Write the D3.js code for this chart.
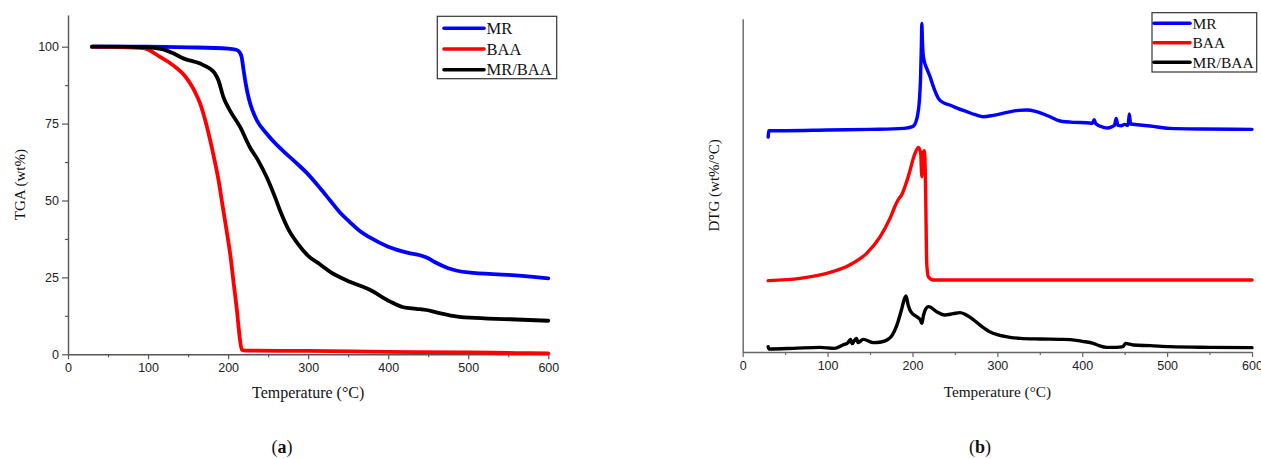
<!DOCTYPE html>
<html>
<head>
<meta charset="utf-8">
<script src="https://cdn.jsdelivr.net/npm/d3@7/dist/d3.min.js"></script>
<style>
  html, body { margin: 0; padding: 0; background: #fff; }
  svg { display: block; }
</style>
</head>
<body>
<svg id="chart" width="1261" height="459"></svg>
<script>
// ---------- DATA ----------
const seriesNames = ["MR", "BAA", "MR/BAA"];
const xTicksMajor = [0, 100, 200, 300, 400, 500, 600];
const xTicksMinor = [50, 150, 250, 350, 450, 550];
const tgaTicksMajor = [0, 25, 50, 75, 100];
const tgaTicksMinor = [12.5, 37.5, 62.5, 87.5];

// TGA (wt%) vs temperature (°C)
const tgaMR = [[30,100],[100,100],[150,99.8],[200,99.4],[210,99.0],[214,98.3],[217,96.5],[219,93],[222,88],[226,83],[230,79.6],[236,76],[248,71.8],[265,67],[281,63.2],[300,58.5],[315,54],[327.5,50],[340,46],[352,43],[365,40],[377,38],[400,35],[425,33],[440,32.2],[450,31.2],[458,30],[475,28],[500,26.6],[550,25.8],[600,24.7]];
const tgaBAA = [[30,100],[60,99.9],[94,99.5],[115,96.7],[125,95.1],[136,93],[145,90.8],[152.5,88.1],[158,85.6],[165,81.6],[171,76.5],[177.5,69.7],[183,63.2],[188,56.7],[193,48.5],[198,40.4],[202.5,32.8],[207,23],[211,14.3],[214.5,5.5],[217,1.5],[222,1.2],[300,1.1],[400,0.8],[500,0.6],[560,0.4],[600,0.3]];
const tgaBlend = [[30,100],[60,100],[100,99.8],[119,99.1],[130,98],[144,96.2],[165,94.5],[177,92.9],[183,91.5],[188,89],[194,83.7],[202,79.4],[215,73.9],[227,67.4],[238,62.8],[248,57.7],[258,51.5],[266,46],[275,40.8],[287,36],[300,32],[315,29.2],[327.5,26.8],[352,23.6],[377,21],[402,17.2],[419,15.3],[435,14.8],[448,14.4],[460,13.6],[478,12.6],[502,11.9],[552,11.4],[600,10.9]];

// DTG (arbitrary offset units) vs temperature (°C)
const dtgMR = [[30,64.5],[31,66.4],[50,66.4],[100,66.6],[150,66.8],[190,67.1],[200,67.6],[204,69],[206,71],[208,75],[209.5,82],[210.5,92],[211,98.6],[211.8,93],[212.5,89.5],[213.6,87.6],[216.8,85.1],[220.7,82.6],[224.6,79.6],[230.5,76.1],[236.3,74.8],[244,74.1],[254,73],[264,72.1],[274,71.2],[283.5,70.6],[295,71],[310,71.8],[325,72.5],[335,72.6],[345,72.2],[360,70.8],[374,69.3],[390,68.9],[405,68.8],[412,68.6],[414,69.7],[416,68.5],[425,67.4],[430,67.2],[435,67.6],[438,68],[440,70.1],[442,68],[446,67.9],[450,68.3],[454,68],[455.5,71.4],[457,68.4],[465,68.2],[480,67.8],[503,67.1],[540,66.9],[600,66.8]];
const dtgBAA = [[30,21.4],[67.5,22.1],[99,23.6],[126,26.1],[146,29.6],[162,34.6],[173.5,40.1],[181,44.6],[184,46],[187,47],[195,52.6],[203,59.6],[207,61.4],[209.7,59.6],[210.5,55],[211,52.6],[211.7,57],[212.5,59.6],[214,60.4],[215,55],[215.6,46.6],[216.8,26.6],[218.7,22.6],[224.6,21.6],[300,21.6],[400,21.6],[500,21.6],[600,21.6]];
const dtgBlend = [[30,1.6],[31,0.9],[60,1.1],[91,1.4],[108,1.1],[118,2.1],[124,2.8],[127,3.8],[129,2.5],[131,3.2],[134,4.1],[136,2.8],[142,3.8],[154,2.8],[163,3],[170,3.6],[176,5],[181,7.6],[187,12.6],[190,15.5],[192.4,16.8],[195,14],[198,12.1],[205,10.6],[209,9.8],[211,8.6],[213,11],[215,12.6],[219,13.6],[228.6,12.1],[238,11.1],[248,11.5],[256,11.8],[262,11.3],[268,10.4],[280,8],[291,6.1],[300,5.2],[315,4.4],[327,4.1],[350,3.9],[374,3.8],[386,3.7],[400,3.2],[413,2.6],[420,1.9],[429,1.4],[440,1.4],[448,1.6],[451,2.6],[453,2.5],[460,2.1],[480,1.9],[503,1.6],[550,1.4],[600,1.3]];

const colors = ["#0000ff", "#ff0000", "#000000"];

// ---------- DRAW ----------
const svg = d3.select("#chart");
svg.append("rect").attr("width", 1261).attr("height", 459).attr("fill", "#fff");

const tickFont = "'Liberation Sans', Arial, sans-serif";
const serif = "'Liberation Serif', 'Times New Roman', serif";

function styleAxis(g, color) {
  g.select(".domain").attr("stroke", color).attr("stroke-width", 1.4);
  g.selectAll(".tick line").attr("stroke", color).attr("stroke-width", 1.2);
  g.selectAll(".tick text").attr("fill", "#222").style("font-family", tickFont).style("font-size", "12.5px");
}

function panel(opts) {
  const x = d3.scaleLinear().domain([0, 600]).range([opts.x0, opts.x1]);
  const y = d3.scaleLinear().domain(opts.yDomain).range([opts.yBottom, opts.yTop]);
  const g = svg.append("g");

  // minor x ticks
  g.append("g").attr("transform", `translate(0,${opts.yBottom})`)
    .call(d3.axisBottom(x).tickValues(xTicksMinor).tickSize(3).tickFormat("").tickSizeOuter(0))
    .call(s => { styleAxis(s, opts.axisColor); s.select(".domain").remove(); });
  // major x ticks
  g.append("g").attr("transform", `translate(0,${opts.yBottom})`)
    .call(d3.axisBottom(x).tickValues(xTicksMajor).tickSize(5).tickPadding(4).tickSizeOuter(0).tickFormat(d3.format("d")))
    .call(s => styleAxis(s, opts.axisColor));

  if (opts.yMajor) {
    g.append("g").attr("transform", `translate(${opts.x0},0)`)
      .call(d3.axisLeft(y).tickValues(opts.yMinor).tickSize(3).tickFormat("").tickSizeOuter(0))
      .call(s => { styleAxis(s, opts.axisColor); s.select(".domain").remove(); });
    g.append("g").attr("transform", `translate(${opts.x0},0)`)
      .call(d3.axisLeft(y).tickValues(opts.yMajor).tickSize(6).tickPadding(3).tickSizeOuter(0).tickFormat(d3.format("d")))
      .call(s => styleAxis(s, opts.axisColor));
  } else {
    g.append("g").attr("transform", `translate(${opts.x0},0)`)
      .call(d3.axisLeft(y).tickValues([]).tickSizeOuter(0))
      .call(s => styleAxis(s, opts.axisColor));
  }

  const line = d3.line().x(d => x(d[0])).y(d => y(d[1])).curve(d3.curveMonotoneX);
  opts.series.forEach((s, i) => {
    g.append("path").datum(s).attr("d", line)
      .attr("fill", "none").attr("stroke", colors[i])
      .attr("stroke-width", opts.lw).attr("stroke-linejoin", "round").attr("stroke-linecap", "round");
  });

  // axis titles
  g.append("text").attr("x", (opts.x0 + opts.x1) / 2).attr("y", opts.xTitleY)
    .attr("text-anchor", "middle").style("font-family", serif).style("font-size", opts.xTitleSize + "px")
    .attr("fill", "#111").text("Temperature (°C)");
  g.append("text").attr("transform", `translate(${opts.yTitleX},${(opts.yTop + opts.yBottom) / 2}) rotate(-90)`)
    .attr("text-anchor", "middle").style("font-family", serif).style("font-size", "15px")
    .attr("fill", "#111").text(opts.yTitle);

  // legend
  const L = opts.legend;
  g.append("rect").attr("x", L.x).attr("y", L.y).attr("width", L.w).attr("height", L.h)
    .attr("fill", "#fff").attr("stroke", "#333").attr("stroke-width", 1.2);
  seriesNames.forEach((n, i) => {
    const cy = L.y + L.first + i * L.step;
    g.append("line").attr("x1", L.lx1).attr("x2", L.lx2).attr("y1", cy).attr("y2", cy)
      .attr("stroke", colors[i]).attr("stroke-width", 3.6).attr("stroke-linecap", "round");
    g.append("text").attr("x", L.tx).attr("y", cy + 5.5)
      .style("font-family", serif).style("font-size", L.fs + "px").attr("fill", "#111").text(n);
  });

  // panel label
  const lab = g.append("text").attr("x", opts.labelX).attr("y", 453).attr("text-anchor", "middle")
    .style("font-family", serif).style("font-size", "18px").attr("fill", "#111");
  lab.append("tspan").text("(");
  lab.append("tspan").attr("font-weight", "bold").text(opts.label);
  lab.append("tspan").text(")");
}

panel({
  x0: 68, x1: 548.3, yTop: 15, yBottom: 354.3, yDomain: [0, 110.3],
  yMajor: tgaTicksMajor, yMinor: tgaTicksMinor, axisColor: "#555",
  series: [tgaMR, tgaBAA, tgaBlend], lw: 3.8,
  xTitleY: 398, xTitleSize: 16, yTitleX: 25, yTitle: "TGA (wt%)",
  legend: { x: 437.3, y: 16.3, w: 119.4, h: 62.4, first: 12, step: 20.7, lx1: 444, lx2: 484, tx: 486.5, fs: 16.5 },
  labelX: 282, label: "a"
});

panel({
  x0: 742.7, x1: 1252, yTop: 18.7, yBottom: 352, yDomain: [0, 100],
  yMajor: null, yMinor: null, axisColor: "#666",
  series: [dtgMR, dtgBAA, dtgBlend], lw: 3.4,
  xTitleY: 396.5, xTitleSize: 15.3, yTitleX: 719, yTitle: "DTG (wt%/°C)",
  legend: { x: 1152, y: 12.7, w: 104.7, h: 59.3, first: 10.6, step: 19.5, lx1: 1154, lx2: 1190, tx: 1192.5, fs: 15.5 },
  labelX: 980, label: "b"
});
</script>
</body>
</html>
